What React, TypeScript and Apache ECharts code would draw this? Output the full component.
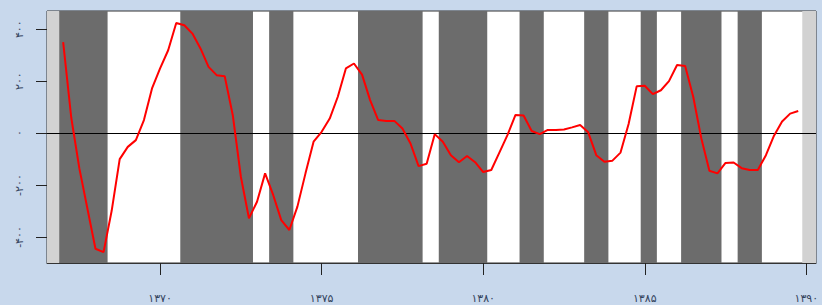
import React, { useEffect, useRef } from "react";
import * as echarts from "echarts";

// Quarterly series starting at 1367 Q1 (step 0.25 year)
const startYear = 1367;
const values = [
  350, 60, -135, -290,
  -445, -458, -300, -100,
  -53, -27, 50, 172,
  249, 319, 424, 415,
  383, 326, 255, 223,
  219, 69, -168, -328,
  -264, -155, -238, -335,
  -373, -283, -155, -33,
  5, 56, 140, 249,
  268, 225, 127, 50,
  47, 47, 18, -40,
  -127, -118, -4, -33,
  -85, -112, -88, -112,
  -150, -142, -75, -8,
  70, 68, 8, -4,
  12, 12, 14, 22,
  31, 3, -85, -110,
  -106, -75, 35, 180,
  182, 150, 165, 200,
  262, 258, 140, -20,
  -145, -155, -115, -113,
  -135, -142, -142, -85,
  -10, 45, 75, 85,
];

// Shaded periods [from, to] in years
const darkBands: [number, number][] = [
  [1366.875, 1368.375],
  [1370.625, 1372.875],
  [1373.375, 1374.125],
  [1376.125, 1378.125],
  [1378.625, 1380.125],
  [1381.125, 1381.875],
  [1383.125, 1383.875],
  [1384.875, 1385.375],
  [1386.125, 1387.375],
  [1387.875, 1388.625],
];
const lightBands: [number, number][] = [
  [1366.5, 1366.875],
  [1389.875, 1390.3],
];

const xMin = 1366.5;
const xMax = 1390.3;
const yMin = -500;
const yMax = 470;
const xTicks = [1370, 1375, 1380, 1385, 1390];
const xTickLabels = ["۱۳۷۰", "۱۳۷۵", "۱۳۸۰", "۱۳۸۵", "۱۳۹۰"];
const yTicks = [-400, -200, 0, 200, 400];
const yTickLabels = ["-۴۰۰", "-۲۰۰", "۰", "۲۰۰", "۴۰۰"];

export default function App() {
  const ref = useRef<HTMLDivElement>(null);
  useEffect(() => {
    if (!ref.current) return;
    const chart = echarts.init(ref.current, null, { renderer: "svg" });
    const data = values.map((v, i) => [startYear + i * 0.25, v]);
    const band = (b: [number, number][], color: string) =>
      b.map(([a, c]) => [
        { xAxis: a, itemStyle: { color } },
        { xAxis: c },
      ]);
    chart.setOption({
      animation: false,
      backgroundColor: "#c8d8ec",
      textStyle: { fontFamily: "DejaVu Sans" },
      grid: {
        left: 47,
        top: 11,
        right: 6,
        bottom: 42,
        show: true,
        backgroundColor: "#ffffff",
        borderColor: "#333333",
        borderWidth: 1,
      },
      xAxis: {
        type: "value",
        min: xMin,
        max: xMax,
        z: 10,
        splitLine: { show: false },
        axisLine: { show: true, onZero: false, lineStyle: { color: "#333333", width: 1 } },
        axisTick: {
          show: true,
          length: 12,
          customValues: xTicks,
          lineStyle: { color: "#222222", width: 1 },
        },
        axisLabel: {
          customValues: xTicks,
          margin: 30,
          fontSize: 11,
          color: "#34445e",
          formatter: (v: number) => xTickLabels[xTicks.indexOf(Math.round(v))] ?? "",
        },
      },
      yAxis: {
        type: "value",
        min: yMin,
        max: yMax,
        splitLine: { show: false },
        axisLine: { show: false, onZero: false },
        axisTick: { show: false },
        axisLabel: {
          customValues: yTicks,
          rotate: 90,
          margin: 22,
          fontSize: 11,
          color: "#34445e",
          formatter: (v: number) => yTickLabels[yTicks.indexOf(Math.round(v))] ?? "",
        },
      },
      series: [
        {
          type: "line",
          data: [],
          silent: true,
          markArea: {
            silent: true,
            itemStyle: { opacity: 1 },
            data: [...band(darkBands, "#6c6c6c"), ...band(lightBands, "#d2d2d2")],
          },
        },
        {
          type: "line",
          data,
          symbol: "none",
          lineStyle: { color: "#ff0000", width: 2 },
          markLine: {
            silent: true,
            symbol: "none",
            label: { show: false },
            lineStyle: { color: "#000000", width: 1, type: "solid" },
            data: [{ yAxis: 0 }],
          },
          z: 5,
        },
        {
          // y-axis tick marks drawn through the chart's own scales
          type: "custom",
          silent: true,
          clip: false,
          z: 20,
          data: yTicks.map((t) => [xMin, t]),
          encode: { x: 0, y: 1 },
          renderItem: (params: any, api: any) => {
            const p = api.coord([api.value(0), api.value(1)]);
            const y = Math.round(p[1]) + 0.5;
            return {
              type: "line",
              shape: { x1: p[0] - 11, y1: y, x2: p[0], y2: y },
              style: { stroke: "#222222", lineWidth: 1 },
            };
          },
        },
      ],
    });
    return () => chart.dispose();
  }, []);
  return (
    <div
      ref={ref}
      style={{ position: "fixed", left: 0, top: 0, width: 822, height: 305 }}
    />
  );
}
